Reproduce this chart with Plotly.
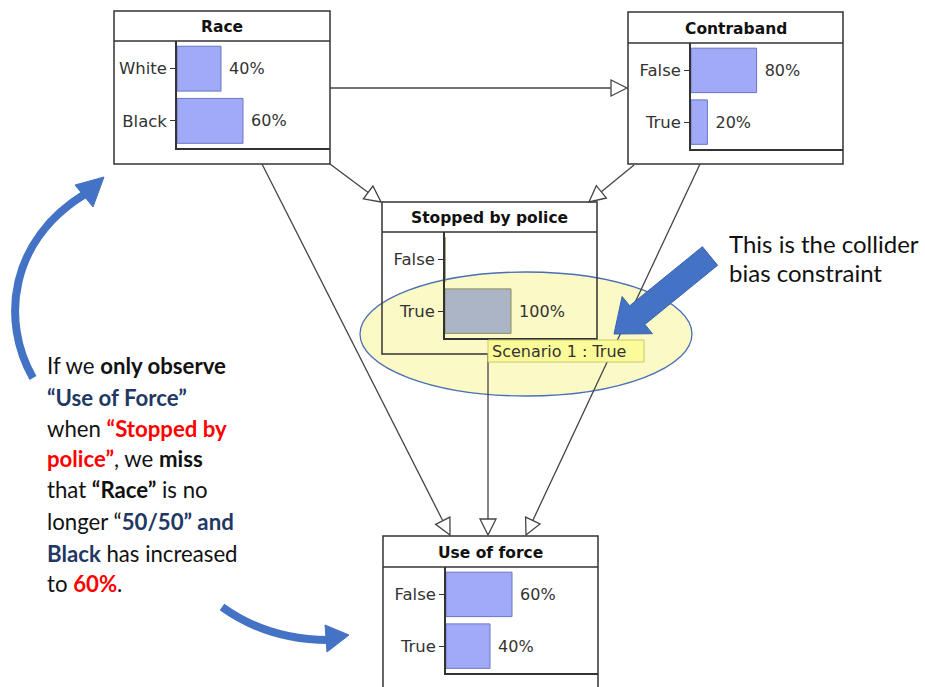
import math
import plotly.graph_objects as go

W, H = 925, 687

# ---------------- data ----------------
race_states = ["White", "Black"]
race_probs = [40, 60]
contraband_states = ["False", "True"]
contraband_probs = [80, 20]
stopped_states = ["False", "True"]
stopped_probs = [0, 100]
force_states = ["False", "True"]
force_probs = [60, 40]
node_titles = ["Race", "Contraband", "Stopped by police", "Use of force"]
scenario_label = "Scenario 1 : True"

BLUE_BAR = "#a0aaf6"
BLUE_EDGE = "#6a76c6"
GRAY_BAR = "#abb5c6"
GRAY_EDGE = "#8c8c5c"
LINE = "#333333"
ARROW_BLUE = "#4472c4"
FONT_NODE = "DejaVu Sans"
FONT_TXT = "Lato"

nodes = [
    dict(title=node_titles[0], states=race_states, probs=race_probs,
         box=(114, 11, 330, 164), head=41, chart=(177, 41, 330, 148), scale=110,
         fill=BLUE_BAR, edge=BLUE_EDGE),
    dict(title=node_titles[1], states=contraband_states, probs=contraband_probs,
         box=(628, 12, 843, 164), head=43, chart=(691, 43, 843, 149), scale=82,
         fill=BLUE_BAR, edge=BLUE_EDGE),
    dict(title=node_titles[2], states=stopped_states, probs=stopped_probs,
         box=(382, 202, 597, 354), head=232, chart=(445, 232, 597, 338), scale=66,
         fill=GRAY_BAR, edge=GRAY_EDGE),
    dict(title=node_titles[3], states=force_states, probs=force_probs,
         box=(383, 536, 598, 720), head=567, chart=(446, 567, 598, 673), scale=110,
         fill=BLUE_BAR, edge=BLUE_EDGE),
]

fig = go.Figure()
shapes = []
annotations = []

# ellipse highlight (below everything)
shapes.append(dict(type="circle", xref="x", yref="y", x0=360, x1=692, y0=272, y1=396,
                   fillcolor="#fbf9c6", line=dict(color="#4a6fb5", width=1.3), layer="below"))

layout_axes = {}
for i, n in enumerate(nodes):
    k = i + 2
    x0, y0, x1, y1 = n["chart"]
    fig.add_trace(go.Bar(
        x=n["probs"], y=n["states"], orientation="h",
        xaxis=f"x{k}", yaxis=f"y{k}", width=0.86,
        marker=dict(color=n["fill"], line=dict(color=n["edge"], width=1)),
        text=[f"\u00a0{p}%" if p > 0 else "" for p in n["probs"]],
        textposition="outside", cliponaxis=False,
        textfont=dict(family=FONT_NODE, size=16, color="#333333"),
        hoverinfo="skip", showlegend=False,
    ))
    layout_axes[f"xaxis{k}"] = dict(
        domain=[x0 / W, x1 / W], range=[0, (x1 - x0) / n["scale"] * 100],
        anchor=f"y{k}", showline=True, linecolor=LINE, linewidth=1.5,
        showgrid=False, zeroline=False, showticklabels=False, ticks="", fixedrange=True)
    layout_axes[f"yaxis{k}"] = dict(
        domain=[1 - y1 / H, 1 - y0 / H], anchor=f"x{k}", type="category",
        categoryorder="array", categoryarray=n["states"], range=[1.52, -0.53],
        showline=True, linecolor=LINE, linewidth=1.5, showgrid=False, zeroline=False,
        ticks="outside", ticklen=5, tickcolor=LINE, tickwidth=1.2,
        tickfont=dict(family=FONT_NODE, size=16.5, color="#333333"), fixedrange=True)
    bx0, by0, bx1, by1 = n["box"]
    shapes.append(dict(type="rect", xref="x", yref="y", x0=bx0, x1=bx1, y0=by0, y1=by1,
                       line=dict(color=LINE, width=1.5), fillcolor="rgba(0,0,0,0)", layer="below"))
    shapes.append(dict(type="line", xref="x", yref="y", x0=bx0, x1=bx1, y0=n["head"], y1=n["head"],
                       line=dict(color=LINE, width=1.5), layer="below"))
    annotations.append(dict(x=(bx0 + bx1) / 2, y=(by0 + n["head"]) / 2 + 1, xref="x", yref="y",
                            text=f"<b>{n['title']}</b>", showarrow=False,
                            font=dict(family=FONT_NODE, size=15.5, color="#111111"),
                            xanchor="center", yanchor="middle"))

# ---------------- edges with hollow arrowheads ----------------
edges = [((330, 88), (627, 88)),
         ((330, 164), (381, 202)),
         ((634, 165), (589, 202)),
         ((262, 164), (450, 535)),
         ((488, 354), (488, 535)),
         ((700, 164), (526, 535))]
for (sx, sy), (tx, ty) in edges:
    dx, dy = tx - sx, ty - sy
    L = math.hypot(dx, dy)
    ux, uy = dx / L, dy / L
    hl, hw = 16, 8
    bx, by = tx - ux * hl, ty - uy * hl
    shapes.append(dict(type="line", xref="x", yref="y", x0=sx, y0=sy, x1=bx, y1=by,
                       line=dict(color="#444444", width=1.3)))
    p1 = (bx - uy * hw, by + ux * hw)
    p2 = (bx + uy * hw, by - ux * hw)
    shapes.append(dict(type="path", xref="x", yref="y",
                       path=f"M {tx},{ty} L {p1[0]:.1f},{p1[1]:.1f} L {p2[0]:.1f},{p2[1]:.1f} Z",
                       fillcolor="white", line=dict(color="#444444", width=1.3)))

# ---------------- blue block arrow ----------------
tail = (710, 256)
tip = (614, 334)
dx, dy = tip[0] - tail[0], tip[1] - tail[1]
L = math.hypot(dx, dy)
ux, uy = dx / L, dy / L
nx, ny = -uy, ux
hl, hw, sw = 30, 24, 12
hbx, hby = tip[0] - ux * hl, tip[1] - uy * hl
pts = [
    (tail[0] + nx * sw, tail[1] + ny * sw),
    (hbx + nx * sw, hby + ny * sw),
    (hbx + nx * hw, hby + ny * hw),
    tip,
    (hbx - nx * hw, hby - ny * hw),
    (hbx - nx * sw, hby - ny * sw),
    (tail[0] - nx * sw, tail[1] - ny * sw),
]
path = "M " + " L ".join(f"{p[0]:.1f},{p[1]:.1f}" for p in pts) + " Z"
shapes.append(dict(type="path", xref="x", yref="y", path=path, fillcolor=ARROW_BLUE,
                   line=dict(color="#3a64b0", width=1)))

# ---------------- curved blue arrows ----------------
shapes.append(dict(type="path", xref="x", yref="y", path="M 33,378 C 0,320 10,240 85,194",
                   line=dict(color=ARROW_BLUE, width=8)))
shapes.append(dict(type="path", xref="x", yref="y", path="M 104,177 L 75,185 L 93,207 Z",
                   fillcolor=ARROW_BLUE, line=dict(color=ARROW_BLUE, width=1)))
shapes.append(dict(type="path", xref="x", yref="y", path="M 222,607 Q 268,640 328,640",
                   line=dict(color=ARROW_BLUE, width=8)))
shapes.append(dict(type="path", xref="x", yref="y", path="M 349,635 L 325,625 L 327,652 Z",
                   fillcolor=ARROW_BLUE, line=dict(color=ARROW_BLUE, width=1)))

# ---------------- scenario label ----------------
shapes.append(dict(type="rect", xref="x", yref="y", x0=488, x1=644, y0=340, y1=362,
                   fillcolor="#fbfb9a", line=dict(color="#c9c96a", width=1), layer="above"))
annotations.append(dict(x=490, y=351, xref="x", yref="y", text=scenario_label, showarrow=False,
                        xanchor="left", yanchor="middle",
                        font=dict(family=FONT_NODE, size=16, color="#333333")))

# ---------------- explanatory text ----------------
NAVY = "#1f3864"
RED = "#ff0000"
right_lines = ["This is the collider", "bias constraint"]
right_y = [243, 272]
for t, y in zip(right_lines, right_y):
    annotations.append(dict(x=727, y=y, xref="x", yref="y", text=t, showarrow=False,
                            xanchor="left", yanchor="middle",
                            font=dict(family=FONT_TXT, size=24, color="#111111")))

left_lines = [
    "If we <b>only observe</b>",
    f"<b><span style='color:{NAVY}'>“Use of Force”</span></b>",
    f"when <b><span style='color:{RED}'>“Stopped by</span></b>",
    f"<b><span style='color:{RED}'>police”</span></b>, we <b>miss</b>",
    "that <b>“Race”</b> is no",
    f"longer “<b><span style='color:{NAVY}'>50/50” and</span></b>",
    f"<b><span style='color:{NAVY}'>Black</span></b> has increased",
    f"to <b><span style='color:{RED}'>60%</span></b>.",
]
left_y = [365, 397, 428, 458, 489, 521, 553, 583]
for t, y in zip(left_lines, left_y):
    annotations.append(dict(x=45, y=y, xref="x", yref="y", text=t, showarrow=False,
                            xanchor="left", yanchor="middle",
                            font=dict(family=FONT_TXT, size=22.2, color="#111111")))

fig.update_layout(
    width=W, height=H, margin=dict(l=0, r=0, t=0, b=0),
    paper_bgcolor="white", plot_bgcolor="rgba(0,0,0,0)",
    xaxis=dict(domain=[0, 1], range=[0, W], visible=False, fixedrange=True),
    yaxis=dict(domain=[0, 1], range=[H, 0], visible=False, fixedrange=True),
    shapes=shapes, annotations=annotations, showlegend=False,
    **layout_axes,
)
fig.write_html("out.html", config={"displayModeBar": False},
               post_script="document.body.style.margin='0px';document.body.style.overflow='hidden';")
